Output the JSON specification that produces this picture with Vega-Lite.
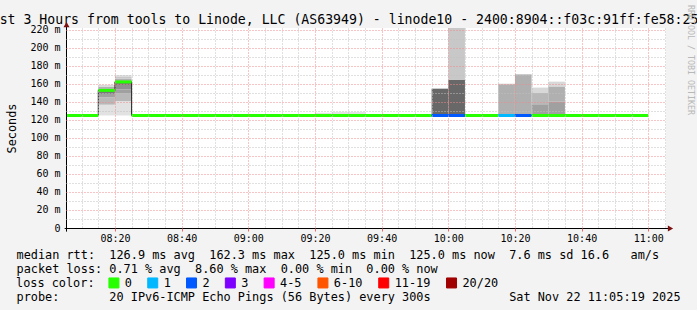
{
  "$schema": "https://vega.github.io/schema/vega-lite/v6.json",
  "width": 600,
  "height": 200,
  "autosize": "none",
  "padding": {"left": 66, "top": 28, "right": 31, "bottom": 82},
  "background": "#f3f3f3",
  "config": {"view": {"fill": "#ffffff", "stroke": null}, "font": "DejaVu Sans Mono"},
  "datasets": {
    "smoke": [
      {"t0": "2025-11-22T08:15:00Z", "t1": "2025-11-22T08:20:00Z", "lo": 125, "hi": 137, "shade": 1},
      {"t0": "2025-11-22T08:15:00Z", "t1": "2025-11-22T08:20:00Z", "lo": 137, "hi": 145, "shade": 4},
      {"t0": "2025-11-22T08:15:00Z", "t1": "2025-11-22T08:20:00Z", "lo": 145, "hi": 149, "shade": 6},
      {"t0": "2025-11-22T08:15:00Z", "t1": "2025-11-22T08:20:00Z", "lo": 149, "hi": 155, "shade": 8},
      {"t0": "2025-11-22T08:15:00Z", "t1": "2025-11-22T08:20:00Z", "lo": 155, "hi": 157, "shade": 5},
      {"t0": "2025-11-22T08:15:00Z", "t1": "2025-11-22T08:20:00Z", "lo": 157, "hi": 159, "shade": 2},
      {"t0": "2025-11-22T08:20:00Z", "t1": "2025-11-22T08:25:00Z", "lo": 125, "hi": 141, "shade": 1},
      {"t0": "2025-11-22T08:20:00Z", "t1": "2025-11-22T08:25:00Z", "lo": 141, "hi": 150, "shade": 4},
      {"t0": "2025-11-22T08:20:00Z", "t1": "2025-11-22T08:25:00Z", "lo": 150, "hi": 154, "shade": 6},
      {"t0": "2025-11-22T08:20:00Z", "t1": "2025-11-22T08:25:00Z", "lo": 154, "hi": 158, "shade": 7},
      {"t0": "2025-11-22T08:20:00Z", "t1": "2025-11-22T08:25:00Z", "lo": 158, "hi": 163, "shade": 8},
      {"t0": "2025-11-22T08:20:00Z", "t1": "2025-11-22T08:25:00Z", "lo": 163, "hi": 166, "shade": 5},
      {"t0": "2025-11-22T08:20:00Z", "t1": "2025-11-22T08:25:00Z", "lo": 166, "hi": 168.5, "shade": 3},
      {"t0": "2025-11-22T08:20:00Z", "t1": "2025-11-22T08:25:00Z", "lo": 168.5, "hi": 170, "shade": 1},
      {"t0": "2025-11-22T09:20:00Z", "t1": "2025-11-22T09:25:00Z", "lo": 125, "hi": 128, "shade": 1},
      {"t0": "2025-11-22T09:25:00Z", "t1": "2025-11-22T09:30:00Z", "lo": 125, "hi": 129, "shade": 1},
      {"t0": "2025-11-22T09:30:00Z", "t1": "2025-11-22T09:35:00Z", "lo": 125, "hi": 129, "shade": 1},
      {"t0": "2025-11-22T09:55:00Z", "t1": "2025-11-22T10:00:00Z", "lo": 125, "hi": 154.8, "shade": 9},
      {"t0": "2025-11-22T10:00:00Z", "t1": "2025-11-22T10:05:00Z", "lo": 125, "hi": 164.8, "shade": 9},
      {"t0": "2025-11-22T10:00:00Z", "t1": "2025-11-22T10:05:00Z", "lo": 164.8, "hi": 240, "shade": 3},
      {"t0": "2025-11-22T10:15:00Z", "t1": "2025-11-22T10:20:00Z", "lo": 125, "hi": 159.2, "shade": 5},
      {"t0": "2025-11-22T10:15:00Z", "t1": "2025-11-22T10:20:00Z", "lo": 159.2, "hi": 160.2, "shade": 4},
      {"t0": "2025-11-22T10:20:00Z", "t1": "2025-11-22T10:25:00Z", "lo": 125, "hi": 170.7, "shade": 5},
      {"t0": "2025-11-22T10:25:00Z", "t1": "2025-11-22T10:30:00Z", "lo": 125, "hi": 137.5, "shade": 6},
      {"t0": "2025-11-22T10:25:00Z", "t1": "2025-11-22T10:30:00Z", "lo": 137.5, "hi": 150, "shade": 4},
      {"t0": "2025-11-22T10:25:00Z", "t1": "2025-11-22T10:30:00Z", "lo": 150, "hi": 156, "shade": 2},
      {"t0": "2025-11-22T10:30:00Z", "t1": "2025-11-22T10:35:00Z", "lo": 125, "hi": 140.7, "shade": 6},
      {"t0": "2025-11-22T10:30:00Z", "t1": "2025-11-22T10:35:00Z", "lo": 140.7, "hi": 157.3, "shade": 5},
      {"t0": "2025-11-22T10:30:00Z", "t1": "2025-11-22T10:35:00Z", "lo": 157.3, "hi": 162.6, "shade": 2}
    ],
    "median": [
      {"t0": "2025-11-22T08:05:00Z", "t1": "2025-11-22T08:10:00Z", "median": 125, "loss": "0"},
      {"t0": "2025-11-22T08:10:00Z", "t1": "2025-11-22T08:15:00Z", "median": 125, "loss": "0"},
      {"t0": "2025-11-22T08:15:00Z", "t1": "2025-11-22T08:20:00Z", "median": 152.9, "loss": "0"},
      {"t0": "2025-11-22T08:20:00Z", "t1": "2025-11-22T08:25:00Z", "median": 162.3, "loss": "0"},
      {"t0": "2025-11-22T08:25:00Z", "t1": "2025-11-22T08:30:00Z", "median": 125, "loss": "0"},
      {"t0": "2025-11-22T08:30:00Z", "t1": "2025-11-22T08:35:00Z", "median": 125, "loss": "0"},
      {"t0": "2025-11-22T08:35:00Z", "t1": "2025-11-22T08:40:00Z", "median": 125, "loss": "0"},
      {"t0": "2025-11-22T08:40:00Z", "t1": "2025-11-22T08:45:00Z", "median": 125, "loss": "0"},
      {"t0": "2025-11-22T08:45:00Z", "t1": "2025-11-22T08:50:00Z", "median": 125, "loss": "0"},
      {"t0": "2025-11-22T08:50:00Z", "t1": "2025-11-22T08:55:00Z", "median": 125, "loss": "0"},
      {"t0": "2025-11-22T08:55:00Z", "t1": "2025-11-22T09:00:00Z", "median": 125, "loss": "0"},
      {"t0": "2025-11-22T09:00:00Z", "t1": "2025-11-22T09:05:00Z", "median": 125, "loss": "0"},
      {"t0": "2025-11-22T09:05:00Z", "t1": "2025-11-22T09:10:00Z", "median": 125, "loss": "0"},
      {"t0": "2025-11-22T09:10:00Z", "t1": "2025-11-22T09:15:00Z", "median": 125, "loss": "0"},
      {"t0": "2025-11-22T09:15:00Z", "t1": "2025-11-22T09:20:00Z", "median": 125, "loss": "0"},
      {"t0": "2025-11-22T09:20:00Z", "t1": "2025-11-22T09:25:00Z", "median": 125, "loss": "0"},
      {"t0": "2025-11-22T09:25:00Z", "t1": "2025-11-22T09:30:00Z", "median": 125, "loss": "0"},
      {"t0": "2025-11-22T09:30:00Z", "t1": "2025-11-22T09:35:00Z", "median": 125, "loss": "0"},
      {"t0": "2025-11-22T09:35:00Z", "t1": "2025-11-22T09:40:00Z", "median": 125, "loss": "0"},
      {"t0": "2025-11-22T09:40:00Z", "t1": "2025-11-22T09:45:00Z", "median": 125, "loss": "0"},
      {"t0": "2025-11-22T09:45:00Z", "t1": "2025-11-22T09:50:00Z", "median": 125, "loss": "0"},
      {"t0": "2025-11-22T09:50:00Z", "t1": "2025-11-22T09:55:00Z", "median": 125, "loss": "0"},
      {"t0": "2025-11-22T09:55:00Z", "t1": "2025-11-22T10:00:00Z", "median": 125, "loss": "2"},
      {"t0": "2025-11-22T10:00:00Z", "t1": "2025-11-22T10:05:00Z", "median": 125, "loss": "2"},
      {"t0": "2025-11-22T10:05:00Z", "t1": "2025-11-22T10:10:00Z", "median": 125, "loss": "0"},
      {"t0": "2025-11-22T10:10:00Z", "t1": "2025-11-22T10:15:00Z", "median": 125, "loss": "0"},
      {"t0": "2025-11-22T10:15:00Z", "t1": "2025-11-22T10:20:00Z", "median": 125, "loss": "1"},
      {"t0": "2025-11-22T10:20:00Z", "t1": "2025-11-22T10:25:00Z", "median": 125, "loss": "2"},
      {"t0": "2025-11-22T10:25:00Z", "t1": "2025-11-22T10:30:00Z", "median": 125, "loss": "0"},
      {"t0": "2025-11-22T10:30:00Z", "t1": "2025-11-22T10:35:00Z", "median": 125, "loss": "0"},
      {"t0": "2025-11-22T10:35:00Z", "t1": "2025-11-22T10:40:00Z", "median": 125, "loss": "0"},
      {"t0": "2025-11-22T10:40:00Z", "t1": "2025-11-22T10:45:00Z", "median": 125, "loss": "0"},
      {"t0": "2025-11-22T10:45:00Z", "t1": "2025-11-22T10:50:00Z", "median": 125, "loss": "0"},
      {"t0": "2025-11-22T10:50:00Z", "t1": "2025-11-22T10:55:00Z", "median": 125, "loss": "0"},
      {"t0": "2025-11-22T10:55:00Z", "t1": "2025-11-22T11:00:00Z", "median": 125, "loss": "0"}
    ],
    "xaxisline": [{"ta": "2025-11-22T08:04:55Z", "tb": "2025-11-22T11:06:40Z", "v": 0}],
    "yaxisline": [{"t": "2025-11-22T08:05:19Z", "va": -4, "vb": 226}],
    "xarrow": [{"t": "2025-11-22T11:06:40Z", "v": 0}],
    "yarrow": [{"t": "2025-11-22T08:05:19Z", "v": 225.9}]
  },
  "layer": [
    {
      "data": {"name": "smoke"},
      "mark": {"type": "rect", "clip": true},
      "encoding": {
        "x": {
          "field": "t0", "type": "temporal",
          "scale": {"type": "utc", "nice": false,
            "domain": [
              {"year": 2025, "month": 11, "date": 22, "hours": 8, "minutes": 5, "seconds": 19, "utc": true},
              {"year": 2025, "month": 11, "date": 22, "hours": 11, "minutes": 5, "seconds": 19, "utc": true}
            ]},
          "axis": {
            "orient": "bottom",
            "values": [1763799000000, 1763799300000, 1763799600000, 1763799900000, 1763800200000, 1763800500000, 1763800800000, 1763801100000, 1763801400000, 1763801700000, 1763802000000, 1763802300000, 1763802600000, 1763802900000, 1763803200000, 1763803500000, 1763803800000, 1763804100000, 1763804400000, 1763804700000, 1763805000000, 1763805300000, 1763805600000, 1763805900000, 1763806200000, 1763806500000, 1763806800000, 1763807100000, 1763807400000, 1763807700000, 1763808000000, 1763808300000, 1763808600000, 1763808900000, 1763809200000, 1763809500000],
            "labelExpr": "utcminutes(datum.value) % 20 === 0 ? utcFormat(datum.value, '%H:%M') : ''",
            "labelFont": "DejaVu Sans Mono", "labelFontSize": 10, "labelColor": "#000000",
            "labelPadding": 2, "labelOverlap": false, "labelFlush": false, "labelBound": false,
            "ticks": true, "tickSize": 3,
            "tickColor": {"condition": {"test": "utcminutes(datum.value) % 20 === 0", "value": "#ee6666"}, "value": "transparent"},
            "domain": false,
            "grid": true, "gridDash": [1, 2], "gridWidth": 1,
            "gridColor": {"condition": {"test": "utcminutes(datum.value) % 20 === 0", "value": "#ee8a8a"}, "value": "#c0c0c0"},
            "zindex": 1,
            "title": [
              "median\u00a0rtt:\u00a0\u00a0126.9\u00a0ms\u00a0avg\u00a0\u00a0162.3\u00a0ms\u00a0max\u00a0\u00a0125.0\u00a0ms\u00a0min\u00a0\u00a0125.0\u00a0ms\u00a0now\u00a0\u00a07.6\u00a0ms\u00a0sd\u00a016.6\u00a0\u00a0\u00a0am/s",
              "packet\u00a0loss:\u00a00.71\u00a0%\u00a0avg\u00a0\u00a08.60\u00a0%\u00a0max\u00a0\u00a00.00\u00a0%\u00a0min\u00a0\u00a00.00\u00a0%\u00a0now",
              "\u200b",
              "probe:\u00a0\u00a0\u00a0\u00a0\u00a0\u00a0\u00a020\u00a0IPv6-ICMP\u00a0Echo\u00a0Pings\u00a0(56\u00a0Bytes)\u00a0every\u00a0300s\u00a0\u00a0\u00a0\u00a0\u00a0\u00a0\u00a0\u00a0\u00a0\u00a0\u00a0Sat\u00a0Nov\u00a022\u00a011:05:19\u00a02025"
            ],
            "titleFont": "DejaVu Sans Mono", "titleFontSize": 11.86, "titleFontWeight": "normal", "titleColor": "#000000",
            "titleAnchor": "start", "titleAlign": "left", "titleBaseline": "alphabetic",
            "titleX": -50, "titleY": 30.5, "titleLineHeight": 14, "titleLimit": 2000
          }
        },
        "x2": {"field": "t1"},
        "y": {
          "field": "lo", "type": "quantitative",
          "scale": {"domain": [0, 222.2], "nice": false, "zero": false},
          "axis": {
            "orient": "left",
            "values": [0, 10, 20, 30, 40, 50, 60, 70, 80, 90, 100, 110, 120, 130, 140, 150, 160, 170, 180, 190, 200, 210, 220],
            "labelExpr": "datum.value % 20 === 0 ? (datum.value === 0 ? '0' : datum.value + ' m') : ''",
            "labelFont": "DejaVu Sans Mono", "labelFontSize": 10, "labelColor": "#000000",
            "labelPadding": 6, "labelOverlap": false, "labelBound": false, "labelFlush": false,
            "ticks": false, "tickSize": 0, "domain": false,
            "grid": true, "gridDash": [1, 2], "gridWidth": 1,
            "gridColor": {"condition": {"test": "datum.value % 20 === 0", "value": "#ee8a8a"}, "value": "#c0c0c0"},
            "gridOpacity": {"condition": {"test": "datum.value === 0", "value": 0}, "value": 1},
            "zindex": 1,
            "title": "Seconds",
            "titleFont": "DejaVu Sans Mono", "titleFontSize": 11.86, "titleFontWeight": "normal", "titleColor": "#000000",
            "titleX": -55, "titleY": 100, "titleAngle": -90, "titleAlign": "center", "titleBaseline": "middle"
          }
        },
        "y2": {"field": "hi"},
        "fill": {
          "field": "shade", "type": "ordinal",
          "scale": {"domain": [1, 2, 3, 4, 5, 6, 7, 8, 9],
            "range": ["#e2e2e2", "#d8d8d8", "#c8c8c8", "#b8b8b8", "#b0b0b0", "#a0a0a0", "#909090", "#787878", "#686868"]},
          "legend": null
        }
      }
    },
    {
      "data": {"name": "median"},
      "mark": {"type": "line", "interpolate": "step-after", "color": "#202020", "strokeWidth": 1, "clip": true},
      "encoding": {
        "x": {
          "field": "t0", "type": "temporal",
          "axis": {
            "orient": "top", "labels": false, "ticks": false, "domain": false, "grid": false,
            "title": "Last 3 Hours from tools to Linode, LLC (AS63949) - linode10 - 2400:8904::f03c:91ff:fe58:25a1",
            "titleFont": "DejaVu Sans Mono", "titleFontSize": 13.2, "titleFontWeight": "normal", "titleColor": "#000000",
            "titleX": 282.5, "titleY": -5, "titleAlign": "center", "titleAnchor": "middle", "titleBaseline": "alphabetic",
            "titleLimit": 2000
          }
        },
        "y": {
          "field": "median", "type": "quantitative",
          "axis": {
            "orient": "right", "labels": false, "ticks": false, "domain": false, "grid": false,
            "title": "RRDTOOL / TOBI OETIKER",
            "titleFont": "DejaVu Sans Mono", "titleFontSize": 8.3, "titleFontWeight": "normal", "titleColor": "#b8b8b8",
            "titleAngle": 90, "titleX": 23, "titleY": 31.5, "titleAlign": "center", "titleBaseline": "middle"
          }
        }
      }
    },
    {
      "data": {"name": "median"},
      "mark": {"type": "rule", "strokeWidth": 3, "strokeCap": "butt", "clip": true},
      "encoding": {
        "x": {"field": "t0", "type": "temporal", "axis": null},
        "x2": {"field": "t1"},
        "y": {"field": "median", "type": "quantitative", "axis": null},
        "color": {
          "field": "loss", "type": "nominal",
          "scale": {"domain": ["0", "1", "2", "3", "4-5", "6-10", "11-19", "20/20"],
            "range": ["#26ff00", "#00b8ff", "#0059ff", "#7e00ff", "#ff00ff", "#ff5500", "#ff0000", "#a10000"]},
          "legend": {
            "orient": "none", "legendX": -50, "legendY": 249, "direction": "horizontal", "padding": 0,
            "title": "loss color:", "titleOrient": "left", "titleFont": "DejaVu Sans Mono", "titleFontSize": 11.86,
            "titleFontWeight": "normal", "titleColor": "#000000", "titlePadding": 13,
            "symbolType": "square", "symbolSize": 100, "symbolStrokeColor": "#000000", "symbolStrokeWidth": 1,
            "labelFont": "DejaVu Sans Mono", "labelFontSize": 11.86, "labelColor": "#000000", "labelOffset": 5,
            "columnPadding": 12.8,
            "encode": {"symbols": {"update": {
              "fill": {"scale": "color", "field": "value"},
              "stroke": {"value": "#000000"},
              "strokeWidth": {"value": 1},
              "shape": {"value": "square"},
              "size": {"value": 100},
              "opacity": {"value": 1},
              "fillOpacity": {"value": 1}
            }}}
          }
        }
      }
    },
    {
      "data": {"name": "xaxisline"},
      "mark": {"type": "rule", "color": "#000000", "strokeWidth": 1, "yOffset": 0.5},
      "encoding": {
        "x": {"field": "ta", "type": "temporal", "axis": null},
        "x2": {"field": "tb"},
        "y": {"field": "v", "type": "quantitative", "axis": null}
      }
    },
    {
      "data": {"name": "yaxisline"},
      "mark": {"type": "rule", "color": "#000000", "strokeWidth": 1, "xOffset": 0.5},
      "encoding": {
        "x": {"field": "t", "type": "temporal", "axis": null},
        "y": {"field": "va", "type": "quantitative", "axis": null},
        "y2": {"field": "vb"}
      }
    },
    {
      "data": {"name": "xarrow"},
      "mark": {"type": "point", "shape": "triangle-right", "filled": true, "size": 36, "color": "#7a1010", "opacity": 1, "yOffset": 0.5},
      "encoding": {
        "x": {"field": "t", "type": "temporal", "axis": null},
        "y": {"field": "v", "type": "quantitative", "axis": null}
      }
    },
    {
      "data": {"name": "yarrow"},
      "mark": {"type": "point", "shape": "triangle-up", "filled": true, "size": 36, "color": "#7a1010", "opacity": 1, "xOffset": 0.5},
      "encoding": {
        "x": {"field": "t", "type": "temporal", "axis": null},
        "y": {"field": "v", "type": "quantitative", "axis": null}
      }
    }
  ],
  "resolve": {"axis": {"x": "independent", "y": "independent"}}
}
